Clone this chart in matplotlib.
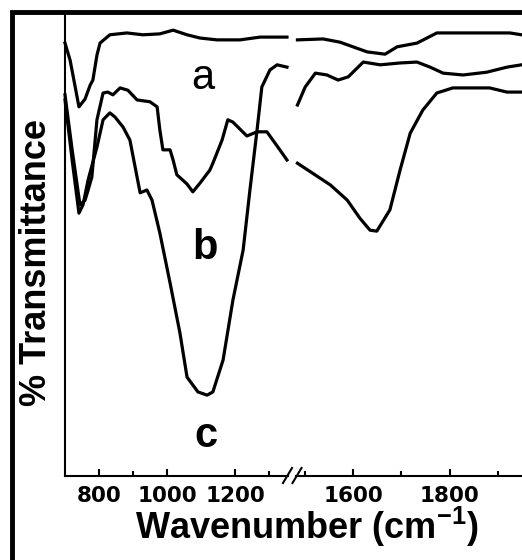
import matplotlib
matplotlib.use("Agg")
import matplotlib.pyplot as plt
import numpy as np
from matplotlib.patches import Rectangle
from matplotlib.lines import Line2D

plt.rcParams["font.family"] = ["DejaVu Sans"]
plt.rcParams["mathtext.fontset"] = "custom"
plt.rcParams["mathtext.rm"] = "Liberation Sans"
plt.rcParams["mathtext.bf"] = "Liberation Sans:bold"

# FTIR spectra (arbitrary % transmittance, offset per curve)
wn_a = [700, 715, 729, 741, 759, 774, 782, 794, 803, 832, 882, 929, 979, 1018, 1059, 1097,
        1147, 1215, 1274, 1353,
        1485, 1538, 1573, 1629, 1666, 1691, 1732, 1773, 1827, 1924, 1948]
t_a = [93.7, 90.0, 84.6, 79.9, 81.6, 84.6, 85.7, 91.1, 93.7, 95.5, 95.9, 95.5, 95.7, 96.5, 95.5, 94.8,
       94.4, 94.4, 95.0, 95.0,
       94.4, 94.6, 93.9, 91.8, 91.3, 92.9, 93.7, 95.9, 95.9, 95.9, 95.5]

wn_b = [700, 721, 744, 759, 768, 779, 794, 812, 826, 841, 862, 885, 912, 950, 971, 979, 988,
        1009, 1018, 1029, 1059, 1076, 1097, 1126, 1135, 1162, 1179, 1194, 1235, 1265, 1294,
        1332, 1353,
        1485, 1553, 1588, 1614, 1635, 1649, 1676, 1697, 1718, 1744, 1773, 1806, 1882, 1918, 1948]
t_b = [82.5, 70.6, 58.7, 59.7, 61.9, 64.7, 77.1, 82.9, 83.1, 82.5, 84.0, 83.5, 81.4, 81.0, 79.9, 74.9, 70.6,
       70.6, 68.4, 65.2, 63.2, 61.5, 63.4, 66.2, 67.7, 72.7, 77.1, 76.6, 73.6, 74.5, 74.5,
       70.6, 68.4,
       67.7, 63.0, 59.7, 55.8, 53.2, 53.0, 57.6, 66.2, 74.2, 79.2, 82.9, 84.0, 84.0, 83.1, 83.1]

wn_c = [700, 721, 741, 753, 768, 794, 812, 832, 847, 871, 891, 912, 921, 941, 956, 979, 1009,
        1038, 1059, 1091, 1118, 1135, 1165, 1194, 1224, 1244, 1265, 1279, 1303, 1324, 1353,
        1485, 1501, 1522, 1546, 1569, 1590, 1621, 1656, 1697, 1732, 1759, 1786, 1827, 1876, 1918, 1948]
t_c = [81.4, 68.4, 56.9, 58.7, 64.1, 71.2, 77.1, 78.6, 77.7, 75.5, 72.7, 64.7, 61.3, 61.9, 59.7, 52.6, 41.8,
       31.0, 21.4, 18.2, 17.5, 18.2, 25.1, 38.1, 48.9, 61.9, 74.9, 84.2, 87.9, 89.0, 88.5,
       80.3, 84.2, 87.2, 86.8, 85.7, 86.4, 89.6, 89.0, 89.4, 89.6, 88.5, 87.2, 86.8, 87.4, 88.5, 89.0]

curve_labels = ["a", "b", "c"]
label_wn = [1106, 1112, 1115]
label_t = [86.1, 49.4, 8.7]
label_weight = ["normal", "bold", "bold"]

W, H = 522, 560
fig = plt.figure(figsize=(W / 100, H / 100), dpi=100)
ax1 = fig.add_axes([65 / W, 84 / H, 223 / W, 462 / H])
ax2 = fig.add_axes([296 / W, 84 / H, 226 / W, 462 / H])

ax1.set_xlim(700, 1356)
ax2.set_xlim(1482, 1949)
for ax in (ax1, ax2):
    ax.set_ylim(0, 100)
    ax.set_yticks([])
    ax.spines["top"].set_visible(False)
    ax.spines["right"].set_visible(False)
    ax.spines["bottom"].set_linewidth(1.5)
    ax.spines["left"].set_linewidth(1.5)
    for wn, t in ((wn_a, t_a), (wn_b, t_b), (wn_c, t_c)):
        wn = np.array(wn)
        t = np.array(t)
        m = wn < 1400 if ax is ax1 else wn > 1400
        ax.plot(wn[m], t[m], color="black", lw=2.3, clip_on=False)
    ax.tick_params(axis="x", which="major", direction="in", length=5.2, width=1.5,
                   labelsize=15.5, pad=7.5)
    ax.tick_params(axis="x", which="minor", direction="in", length=3.4, width=1.5)
ax2.spines["left"].set_visible(False)

ax1.set_xticks([800, 1000, 1200])
ax1.set_xticks([900, 1300], minor=True)
ax2.set_xticks([1600, 1800])
ax2.set_xticks([1500, 1700, 1900], minor=True)
for ax in (ax1, ax2):
    plt.setp(ax.get_xticklabels(), fontweight="bold")

for lab, x, y, fw in zip(curve_labels, label_wn, label_t, label_weight):
    ax1.text(x, y, lab, ha="center", va="center", fontsize=30, fontweight=fw,
             family="Liberation Sans")

# axis break marks
for cx in (287.5, 297):
    fig.add_artist(Line2D([(cx - 4.5) / W, (cx + 4.5) / W],
                          [(H - 483) / H, (H - 468) / H],
                          transform=fig.transFigure, color="black", lw=1.5))

fig.text(307 / W, (H - 539) / H, r"Wavenumber (cm$^{\mathbf{-1}}$)", ha="center",
         va="baseline", fontsize=26, fontweight="bold", family="Liberation Sans")
fig.text(54 / W, (H - 262) / H, "% Transmittance", rotation=90, ha="right", va="center",
         fontsize=26, fontweight="bold", family="Liberation Sans")

# outer frame (cut at right/bottom like the source image)
fig.add_artist(Rectangle((12 / W, -0.5), 2, 0.5 + (H - 12) / H, transform=fig.transFigure,
                         fill=False, lw=3.5, ec="black"))

fig.savefig("out.png", dpi=100)
